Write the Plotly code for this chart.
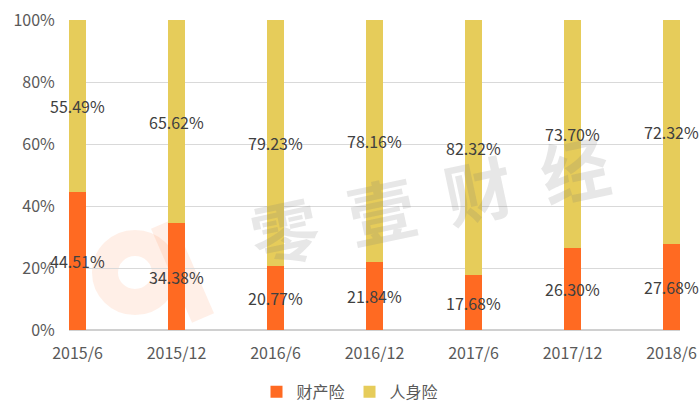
import plotly.graph_objects as go

categories = ["2015/6", "2015/12", "2016/6", "2016/12", "2017/6", "2017/12", "2018/6"]
property_ins = [44.51, 34.38, 20.77, 21.84, 17.68, 26.30, 27.68]
life_ins = [55.49, 65.62, 79.23, 78.16, 82.32, 73.70, 72.32]
series_names = ["财产险", "人身险"]
y_ticks = [0, 20, 40, 60, 80, 100]
y_tick_labels = ["0%", "20%", "40%", "60%", "80%", "100%"]

FONT = "Noto Sans CJK SC, Microsoft YaHei, sans-serif"
ORANGE = "#FF6A22"
YELLOW = "#E6CC5A"
bar_w = 0.172
L, R, T, B = 69, 680, 20, 330

def px(x):
    return (x - L) / (R - L)

def py(y):
    return (B - y) / (B - T)

fig = go.Figure()
for name, vals, col in [(series_names[0], property_ins, ORANGE), (series_names[1], life_ins, YELLOW)]:
    fig.add_trace(go.Bar(
        x=categories, y=vals, name=name, marker=dict(color=col, line=dict(width=0)),
        width=bar_w,
        text=[f"{v:.2f}%" for v in vals], textposition="inside", insidetextanchor="middle",
        textangle=0, constraintext="none",
        textfont=dict(family=FONT, size=16, color="#404040"),
        cliponaxis=False,
    ))

# watermark logo
wm = "rgba(255,106,34,0.11)"
fig.add_shape(type="circle", xref="paper", yref="paper",
              x0=px(105), x1=px(165), y0=py(302), y1=py(243),
              line=dict(color=wm, width=26), layer="below")
fig.add_shape(type="line", xref="paper", yref="paper",
              x0=px(162), y0=py(224), x1=px(203), y1=py(318),
              line=dict(color=wm, width=24), layer="below")
fig.add_annotation(text="零  壹  财  经", xref="paper", yref="paper",
                   x=px(429), y=py(198), showarrow=False, textangle=-12,
                   font=dict(family=FONT, size=68, color="rgba(120,120,120,0.18)", weight="bold"))

fig.update_layout(
    width=700, height=420, barmode="stack",
    margin=dict(l=L, r=700 - R, t=T, b=420 - B, autoexpand=False),
    plot_bgcolor="white", paper_bgcolor="white",
    font=dict(family=FONT, color="#595959", size=16),
    uniformtext=dict(minsize=16, mode="show"),
    showlegend=True,
    legend=dict(orientation="h", xref="container", yref="container", x=0.5, y=0.067,
                xanchor="center", yanchor="middle", font=dict(size=16, color="#595959"),
                itemwidth=30, traceorder="normal"),
    xaxis=dict(range=[-bar_w / 2, 6 + bar_w / 2], showgrid=False, showline=False, automargin=False,
               ticks="outside", ticklen=9, tickcolor="white", tickfont=dict(size=16, color="#595959")),
    yaxis=dict(range=[0, 100], tickvals=y_ticks, ticktext=y_tick_labels, showgrid=True, automargin=False,
               gridcolor="#D9D9D9", gridwidth=1, zeroline=True, zerolinecolor="#D0D0D0", zerolinewidth=2,
               ticks="outside", ticklen=10, tickcolor="white", tickfont=dict(size=16, color="#595959")),
)
fig.write_html("out.html", config={"displayModeBar": False},
               post_script="document.body.style.margin='0';document.body.style.overflow='hidden';")
